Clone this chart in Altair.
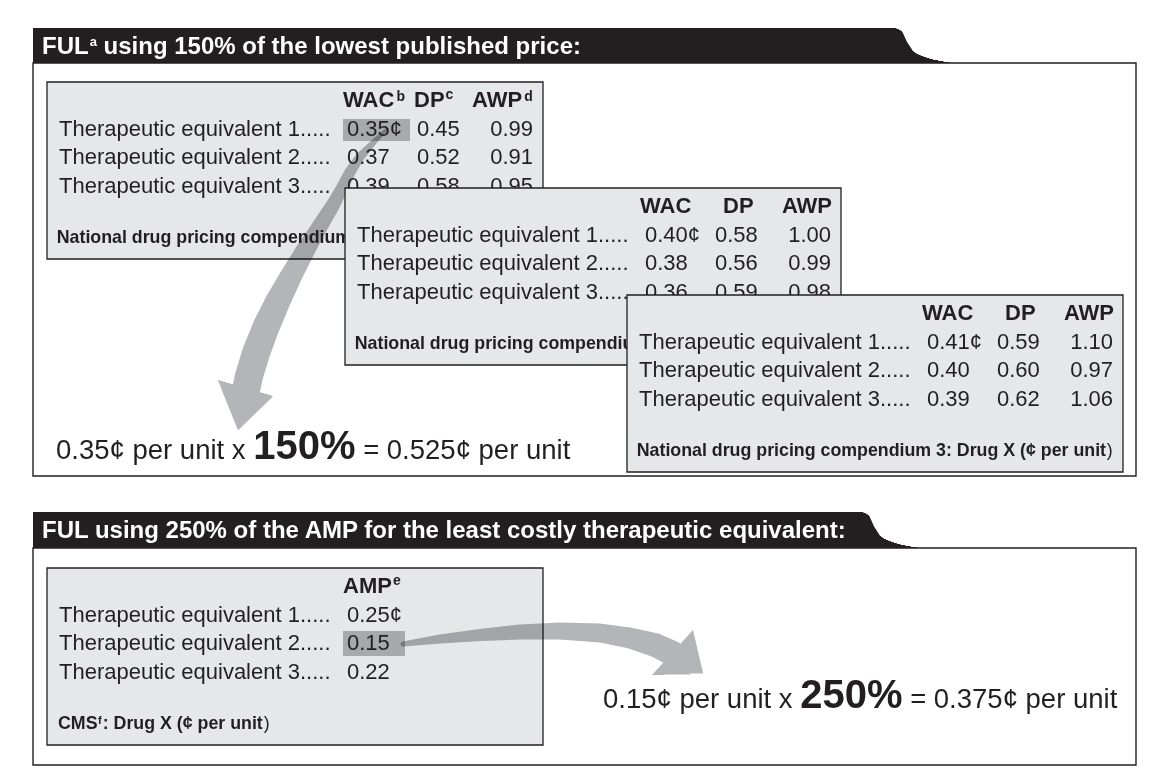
import altair as alt
import pandas as pd

# ---------------- values ----------------
ROW_LABELS = ["Therapeutic equivalent 1.....",
              "Therapeutic equivalent 2.....",
              "Therapeutic equivalent 3....."]
COLUMN_HEADS = ["WAC", "DP", "AWP"]
FOOTNOTE_MARKS = ["b", "c", "d"]

WAC_1 = ["0.35¢", "0.37", "0.39"]
DP_1 = ["0.45", "0.52", "0.58"]
AWP_1 = ["0.99", "0.91", "0.95"]

WAC_2 = ["0.40¢", "0.38", "0.36"]
DP_2 = ["0.58", "0.56", "0.59"]
AWP_2 = ["1.00", "0.99", "0.98"]

WAC_3 = ["0.41¢", "0.40", "0.39"]
DP_3 = ["0.59", "0.60", "0.62"]
AWP_3 = ["1.10", "0.97", "1.06"]

AMP_HEAD = ["AMP", "e"]
AMP_VALUES = ["0.25¢", "0.15", "0.22"]

COMPENDIUM_TITLES = [
    "National drug pricing compendium 1: Drug X (¢ per unit",
    "National drug pricing compendium 2: Drug X (¢ per unit",
    "National drug pricing compendium 3: Drug X (¢ per unit",
]
CLOSE_PAREN = ")"
CMS_TITLE = ["CMS", "f", ": Drug X (¢ per unit"]

HEADER_1 = ["FUL", "a", "using 150% of the lowest published price:"]
HEADER_2 = "FUL using 250% of the AMP for the least costly therapeutic equivalent:"

FORMULA_1 = ["0.35¢ per unit x", "150%", "= 0.525¢ per unit"]
FORMULA_2 = ["0.15¢ per unit x", "250%", "= 0.375¢ per unit"]

# ---------------- layout (pixel positions of the page) ----------------
PAGE_W, PAGE_H, MARGIN = 1155, 779, 8
FONT = "Liberation Sans"
INK = "#231f20"
BOX_FILL = "#e6e7e8"
HILITE = "#a7a9ac"
ARROW = "#b4b5b8"

PANEL_L, PANEL_R = 33, 1136
# header top, header bottom (= panel top), panel bottom, x where the tab starts
PANELS = [(28, 63, 476, 895), (512, 548, 765, 862)]
TAB_PROFILE = [(0.0, 0), (0.03, 3), (0.06, 5), (0.1, 7), (0.15, 8), (0.4, 12),
               (0.66, 18), (0.74, 22), (0.8, 27), (0.86, 33), (0.9, 38),
               (0.94, 45), (0.97, 51), (1.0, 58)]

BOX_W, BOX_H = 496, 177
BOX_ORIGINS = [(47, 82), (345, 188), (627, 295)]
CMS_ORIGIN = (47, 568)
ROW_DY = [47, 75, 104]
HEAD_DY = 18
FOOT_DY = 156
LABEL_DX, WAC_DX, DP_DX, AWP_RDX = 12, 300, 370, 486
FOOT_DX, FOOT_RDX = 11, 479
BOX1_HEAD_DX = [296, 367, 425]
ROW_SIZE, HEAD_SIZE, FOOT_SIZE, SUP_SIZE = 22, 22, 17.8, 14
HDR_SIZE = 24

# em widths (Helvetica/Arial metrics) used to chain text pieces
EM_BOLD = {"FUL": 1.944, "WAC": 2.388, "DP": 1.389, "AWP": 2.333,
           "AMP": 2.222, "CMS": 2.222, "150%": 2.557, "250%": 2.557,
           "a": 0.556, "f": 0.333, "cms_rest": 9.001}
EM_SPACE = 0.278
EM_FORMULA_LEFT = 7.171

HILITE_1 = (343, 410, 119, 141)
HILITE_2 = (343, 405, 631, 656)

ARROW_1 = [(386, 130, 3), (373, 143, 6), (360, 157, 9), (350, 172, 11),
           (342, 188, 12), (333, 205, 14), (320, 226, 16), (305, 251, 19),
           (291, 276, 22), (278, 301, 25), (266, 327, 27), (256, 353, 28),
           (249, 376, 28), (246, 390, 28)]
HEAD_1 = [(218, 380), (273, 396), (238, 430)]
ARROW_2 = [(403, 644, 5), (440, 639, 9), (480, 635, 12), (520, 632, 15),
           (560, 631, 17), (600, 633, 19), (630, 638, 21), (655, 645, 24),
           (672, 653, 25)]
HEAD_2 = [(652, 675), (693, 630), (703, 673)]

FORMULA_POS = [(56, 459), (603, 708)]   # left x, text baseline
F_REG, F_BOLD = 27.5, 40

# ---------------- helpers ----------------
XS = alt.Scale(domain=[MARGIN, PAGE_W - MARGIN], nice=False, zero=False)
YS = alt.Scale(domain=[MARGIN, PAGE_H - MARGIN], nice=False, zero=False, reverse=True)


def X(f):
    return alt.X(f, type="quantitative", scale=XS, axis=None)


def Y(f):
    return alt.Y(f, type="quantitative", scale=YS, axis=None)


def rects(rows, **mark):
    df = pd.DataFrame(rows, columns=["x", "x2", "y", "y2"])
    return alt.Chart(df).mark_rect(**mark).encode(
        x=X("x"), x2=alt.X2("x2"), y=Y("y"), y2=alt.Y2("y2"))


def texts(recs, weight="normal", align="left", color=INK, baseline="middle"):
    df = pd.DataFrame(recs, columns=["x", "y", "text", "size"])
    return alt.Chart(df).mark_text(
        font=FONT, fontWeight=weight, align=align, baseline=baseline, color=color
    ).encode(x=X("x"), y=Y("y"), text="text:N",
             size=alt.Size("size:Q", scale=None, legend=None))


def interp(v, xs, ys):
    for i in range(len(xs) - 1):
        if xs[i] <= v <= xs[i + 1]:
            t = (v - xs[i]) / (xs[i + 1] - xs[i]) if xs[i + 1] != xs[i] else 0
            return ys[i] + t * (ys[i + 1] - ys[i])
    return ys[-1] if v > xs[-1] else ys[0]


def header_shape(top, bottom, tab_x):
    # filled as thin horizontal slices: left edge at the panel, right edge on the tab curve
    fys = [top + fy * (bottom - top) for fy, _ in TAB_PROFILE]
    xs = [tab_x + dx for _, dx in TAB_PROFILE]
    rows = []
    y = float(top)
    while y < bottom:
        xr = interp(y + 0.5, fys, xs)
        rows.append((PANEL_L, xr, y, min(y + 1.4, bottom)))
        y += 1.0
    return rects(rows, fill=INK, strokeWidth=0)


def convex_slices(verts, color):
    ys = [p[1] for p in verts]
    y0, y1 = min(ys), max(ys)
    n = len(verts)
    rows = []
    y = float(y0)
    while y < y1:
        yc = y + 0.5
        hits = []
        for i in range(n):
            (ax, ay), (bx, by) = verts[i], verts[(i + 1) % n]
            if (ay <= yc <= by) or (by <= yc <= ay):
                if ay != by:
                    hits.append(ax + (yc - ay) / (by - ay) * (bx - ax))
        if len(hits) >= 2:
            rows.append((min(hits), max(hits), y, min(y + 1.4, y1)))
        y += 1.0
    return rects(rows, fill=color, strokeWidth=0)


def trail(points):
    df = pd.DataFrame([{"x": x, "y": y, "w": w, "i": i} for i, (x, y, w) in enumerate(points)])
    return alt.Chart(df).mark_trail(color=ARROW, blend="multiply").encode(
        x=X("x"), y=Y("y"), size=alt.Size("w:Q", scale=None, legend=None),
        order=alt.Order("i:Q"))


def box_rect(bx, by):
    return rects([(bx, bx + BOX_W, by, by + BOX_H)], fill=BOX_FILL, stroke=INK, strokeWidth=1.3)


def box_text_layers(bx, by, wac, dp, awp, title, marks):
    reg_l, reg_r, bold_l, bold_r, sup = [], [], [], [], []
    hy = by + HEAD_DY
    if marks:
        for h, m, hdx in zip(COLUMN_HEADS, marks, BOX1_HEAD_DX):
            hx = bx + hdx
            bold_l.append((hx, hy, h, HEAD_SIZE))
            dy = -3 if m in "bd" else -5
            sup.append((hx + EM_BOLD[h] * HEAD_SIZE + 1, hy + dy, m, SUP_SIZE))
    else:
        bold_l.append((bx + 295, hy, COLUMN_HEADS[0], HEAD_SIZE))
        bold_l.append((bx + 378, hy, COLUMN_HEADS[1], HEAD_SIZE))
        bold_r.append((bx + 487, hy, COLUMN_HEADS[2], HEAD_SIZE))
    for lab, w, d, a, dy in zip(ROW_LABELS, wac, dp, awp, ROW_DY):
        ry = by + dy
        reg_l.append((bx + LABEL_DX, ry, lab, ROW_SIZE))
        reg_l.append((bx + WAC_DX, ry, w, ROW_SIZE))
        reg_l.append((bx + DP_DX, ry, d, ROW_SIZE))
        reg_r.append((bx + AWP_RDX, ry, a, ROW_SIZE))
    fy = by + FOOT_DY
    bold_r.append((bx + FOOT_RDX, fy, title, FOOT_SIZE))
    reg_l.append((bx + FOOT_RDX + 0.8, fy, CLOSE_PAREN, FOOT_SIZE))
    layers = [texts(reg_l), texts(reg_r, align="right"), texts(bold_l, weight="bold"),
              texts(bold_r, weight="bold", align="right")]
    if sup:
        layers.append(texts(sup, weight="bold"))
    return layers


def formula_layers(parts, x0, base):
    xb = x0 + EM_FORMULA_LEFT * F_REG
    xr = xb + EM_BOLD[parts[1]] * F_BOLD + EM_SPACE * F_REG
    return [texts([(x0, base, parts[0], F_REG), (xr, base, parts[2], F_REG)], baseline="alphabetic"),
            texts([(xb, base, parts[1], F_BOLD)], weight="bold", baseline="alphabetic")]


layers = []

# ---- panel 1 ----
h_top, h_bot, p_bot, tab = PANELS[0]
layers.append(rects([(PANEL_L, PANEL_R, h_bot, p_bot)], fill="white", stroke=INK, strokeWidth=1.4))
layers.append(header_shape(h_top, h_bot, tab))
hy = (h_top + h_bot) / 2 + 1
x_sup = 42 + EM_BOLD["FUL"] * HDR_SIZE + 1
layers.append(texts([(42, hy, HEADER_1[0], HDR_SIZE),
                     (x_sup + EM_BOLD["a"] * 13 + EM_SPACE * HDR_SIZE, hy, HEADER_1[2], HDR_SIZE)],
                    weight="bold", color="white"))
layers.append(texts([(x_sup, hy - 5, HEADER_1[1], 13)], weight="bold", color="white"))

# box 1 with highlight and arrow
bx, by = BOX_ORIGINS[0]
layers.append(box_rect(bx, by))
layers.append(rects([(HILITE_1[0], HILITE_1[1], HILITE_1[2], HILITE_1[3])], fill=HILITE))
layers.append(trail(ARROW_1))
layers.append(convex_slices(HEAD_1, ARROW))
layers += box_text_layers(bx, by, WAC_1, DP_1, AWP_1, COMPENDIUM_TITLES[0], FOOTNOTE_MARKS)

for (bx, by), w, d, a, t in zip(BOX_ORIGINS[1:], [WAC_2, WAC_3], [DP_2, DP_3],
                                [AWP_2, AWP_3], COMPENDIUM_TITLES[1:]):
    layers.append(box_rect(bx, by))
    layers += box_text_layers(bx, by, w, d, a, t, None)

layers += formula_layers(FORMULA_1, *FORMULA_POS[0])

# ---- panel 2 ----
h_top, h_bot, p_bot, tab = PANELS[1]
layers.append(rects([(PANEL_L, PANEL_R, h_bot, p_bot)], fill="white", stroke=INK, strokeWidth=1.4))
layers.append(header_shape(h_top, h_bot, tab))
hy = (h_top + h_bot) / 2 + 1
layers.append(texts([(42, hy, HEADER_2, HDR_SIZE)], weight="bold", color="white"))

cx, cy = CMS_ORIGIN
layers.append(box_rect(cx, cy))
layers.append(rects([(HILITE_2[0], HILITE_2[1], HILITE_2[2], HILITE_2[3])], fill=HILITE))
layers.append(trail(ARROW_2))
layers.append(convex_slices(HEAD_2, ARROW))

cms_reg = [(cx + LABEL_DX, cy + dy, lab, ROW_SIZE) for lab, dy in zip(ROW_LABELS, ROW_DY)]
cms_reg += [(cx + WAC_DX, cy + dy, v, ROW_SIZE) for v, dy in zip(AMP_VALUES, ROW_DY)]
fx, fy = cx + FOOT_DX, cy + FOOT_DY
f_sup = fx + EM_BOLD["CMS"] * FOOT_SIZE + 0.5
f_rest = f_sup + EM_BOLD["f"] * 11 + 1
cms_reg.append((f_rest + EM_BOLD["cms_rest"] * FOOT_SIZE + 0.8, fy, CLOSE_PAREN, FOOT_SIZE))
layers.append(texts(cms_reg))
amp_x = cx + 296
layers.append(texts([(amp_x, cy + HEAD_DY, AMP_HEAD[0], HEAD_SIZE)], weight="bold"))
layers.append(texts([(amp_x + EM_BOLD["AMP"] * HEAD_SIZE + 1, cy + HEAD_DY - 5, AMP_HEAD[1], SUP_SIZE)],
                    weight="bold"))
layers.append(texts([(fx, fy, CMS_TITLE[0], FOOT_SIZE),
                     (f_rest, fy, CMS_TITLE[2], FOOT_SIZE)], weight="bold"))
layers.append(texts([(f_sup, fy - 3, CMS_TITLE[1], 11)], weight="bold"))

layers += formula_layers(FORMULA_2, *FORMULA_POS[1])

chart = alt.layer(*layers).properties(
    width=PAGE_W - 2 * MARGIN, height=PAGE_H - 2 * MARGIN,
    padding=0, autosize=alt.AutoSizeParams(type="none"), background="white"
).configure_view(stroke=None)

chart.save("out.html", embed_options={"renderer": "svg", "actions": False})
